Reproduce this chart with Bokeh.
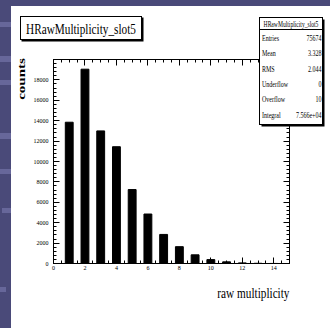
from bokeh.plotting import figure
from bokeh.models import FixedTicker, LinearAxis, Range1d, GridBox, Div
from bokeh.embed import file_html
from bokeh.resources import INLINE

# ---- data ----
multiplicity = [1, 2, 3, 4, 5, 6, 7, 8, 9, 10, 11, 12, 13, 14]
counts = [13850, 19050, 13000, 11450, 7250, 4850, 2850, 1650, 850, 380, 160, 60, 20, 5]
x_ticks = [0, 2, 4, 6, 8, 10, 12, 14]
x_minor = [i * 0.5 for i in range(31)]
y_ticks = [0, 2000, 4000, 6000, 8000, 10000, 12000, 14000, 16000, 18000]
y_minor = [i * 400 for i in range(51)]
hist_name = "HRawMultiplicity_slot5"
x_title = "raw multiplicity"
y_title = "counts"
stat_names = ["Entries", "Mean", "RMS", "Underflow", "Overflow", "Integral"]
stat_values = ["75674", "3.328", "2.044", "0", "10", "7.566e+04"]

SERIF = "Liberation Serif"
PURPLE = "#4a4a79"
PURPLE_LIGHT = "#67679a"
W, H = 330, 328
SX = 0.75  # horizontal squeeze of the text in the reference

# ---------------- main histogram ----------------
p = figure(width=W, height=H, x_range=Range1d(0, 15), y_range=Range1d(0, 20000),
           x_axis_type=None, y_axis_type=None, output_backend="svg", toolbar_location=None,
           min_border_left=53, min_border_right=41, min_border_top=59, min_border_bottom=65)
p.background_fill_color = "white"
p.border_fill_color = "white"
p.outline_line_color = "black"

def style_axis(ax, labels=True):
    ax.axis_line_color = "black"
    ax.major_tick_in = 6
    ax.major_tick_out = 0
    ax.minor_tick_in = 3
    ax.minor_tick_out = 0
    ax.major_tick_line_color = "black"
    ax.minor_tick_line_color = "black"
    ax.major_label_text_font = SERIF
    ax.major_label_text_font_size = "6px"
    ax.major_label_text_color = "black" if labels else None

bottom = LinearAxis(ticker=FixedTicker(ticks=x_ticks, minor_ticks=x_minor), major_label_standoff=2)
style_axis(bottom)
top = LinearAxis(ticker=FixedTicker(ticks=x_ticks, minor_ticks=x_minor))
style_axis(top, labels=False)
left = LinearAxis(ticker=FixedTicker(ticks=y_ticks, minor_ticks=y_minor), major_label_standoff=5)
style_axis(left)
right = LinearAxis(ticker=FixedTicker(ticks=y_ticks, minor_ticks=y_minor))
style_axis(right, labels=False)
p.add_layout(bottom, "below")
p.add_layout(top, "above")
p.add_layout(left, "left")
p.add_layout(right, "right")

p.vbar(x=multiplicity, top=counts, width=0.5, fill_color="black", line_color="black")

# ---------------- overlay: slide decoration, title box, stats box, axis titles ----------------
parts = []

def rect(x, y, w, h, fill, stroke="none"):
    parts.append(f'<rect x="{x}" y="{y}" width="{w}" height="{h}" fill="{fill}" '
                 f'stroke="{stroke}" stroke-width="1"/>')

def text(x, y, s, size, anchor="start", weight="normal", rotate=0):
    rot = f" rotate({rotate})" if rotate else ""
    parts.append(f'<text transform="translate({x},{y}) scale({SX},1){rot}" '
                 f'text-anchor="{anchor}" dominant-baseline="central" '
                 f'style="font-family:\'{SERIF}\',serif;font-size:{size}px;'
                 f'font-weight:{weight};fill:black">{s}</text>')

# slide strips
rect(0, 0, 11, H, PURPLE)
rect(0, 0, W, 6, PURPLE)
for (y0, y1, x0, x1) in [(22, 27, 0, 11), (56, 62, 0, 11), (80, 85, 0, 11), (133, 139, 0, 11),
                         (169, 174, 0, 11), (208, 213, 2, 11), (287, 292, 0, 6)]:
    rect(x0, y0, x1 - x0, y1 - y0, PURPLE_LIGHT)

# title box (with small shadow)
rect(21.5, 17.5, 122, 24, "black")
rect(20.5, 16.5, 121, 23, "white", "black")
text(81, 28.5, hist_name, 15, "middle")

# stats box (with shadow)
rect(261.5, 19.5, 63, 107, "black")
rect(259.5, 17.5, 63, 107, "white", "black")
parts.append('<line x1="259.5" y1="29.5" x2="322.5" y2="29.5" stroke="black" stroke-width="1"/>')
text(291, 24, hist_name, 7.5, "middle")
row_y = [38.5, 54, 69.5, 85, 100, 115.5]
for name, val, yy in zip(stat_names, stat_values, row_y):
    text(262, yy, name, 8, "start")
    text(321.5, yy, val, 8, "end")

# axis titles
text(21, 79, y_title, 15, "middle", weight="bold", rotate=-90)
text(289.5, 293, x_title, 15, "end")

svg = (f'<div style="position:relative;width:{W}px;height:{H}px;overflow:hidden;'
       f'margin:0;padding:0;line-height:0">'
       f'<svg xmlns="http://www.w3.org/2000/svg" width="{W}" height="{H}" '
       f'style="display:block;position:absolute;left:0;top:0">'
       + "".join(parts) + "</svg></div>")
overlay = Div(text=svg, width=W, height=H, margin=0,
              styles={"pointer-events": "none", "overflow": "hidden",
                      "padding": "0", "margin": "0",
                      "position": "absolute", "left": "0px", "top": "0px"})

layout = GridBox(children=[(p, 0, 0), (overlay, 0, 0)], margin=0,
                 styles={"position": "relative", "overflow": "hidden"})
open("out.html", "w").write(file_html(layout, INLINE))
